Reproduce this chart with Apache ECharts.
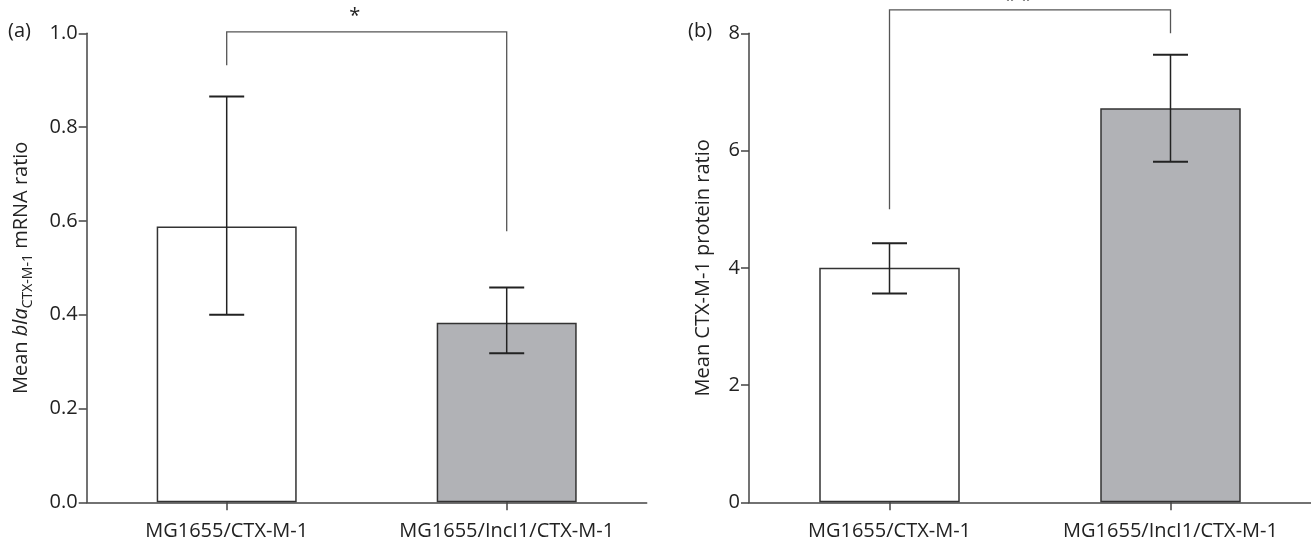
<!DOCTYPE html>
<html>
<head>
<meta charset="utf-8">
<script src="https://cdn.jsdelivr.net/npm/echarts@6/dist/echarts.min.js"></script>
<style>
html,body{margin:0;padding:0;background:#fff;}
#chart{width:1311px;height:545px;}
</style>
</head>
<body>
<div id="chart"></div>
<script>
// ---- data ----
var categories = ['MG1655/CTX-M-1', 'MG1655/IncI1/CTX-M-1'];
var mrnaMean = [0.588, 0.383];
var mrnaLow = [0.400, 0.318];
var mrnaHigh = [0.865, 0.458];
var proteinMean = [4.00, 6.72];
var proteinLow = [3.56, 5.81];
var proteinHigh = [4.42, 7.635];
// bracket: [top value, left leg end, right leg end]
var mrnaBracket = [1.003, 0.932, 0.578];
var mrnaSig = '*';
var proteinBracket = [8.40, 5.00, 8.00];
var proteinSig = '* *';
var mrnaTicks = { min: 0, max: 1.0, interval: 0.2 };
var proteinTicks = { min: 0, max: 8, interval: 2 };
var panelLabels = ['(a)', '(b)'];

var FONT = 'Open Sans';
var TXT = '#222';
var AX = '#444';
var barColors = ['#ffffff', '#b1b2b6'];

function errData(low, high) {
  return low.map(function (l, i) { return [i, l, high[i]]; });
}

function errRender(params, api) {
  var x = api.value(0);
  var lo = api.coord([x, api.value(1)]);
  var hi = api.coord([x, api.value(2)]);
  var hw = 17.5;
  var st = { stroke: '#222', lineWidth: 1.5 };
  return {
    type: 'group',
    children: [
      { type: 'line', shape: { x1: lo[0], y1: lo[1], x2: hi[0], y2: hi[1] }, style: st },
      { type: 'line', shape: { x1: hi[0] - hw, y1: hi[1], x2: hi[0] + hw, y2: hi[1] }, style: { stroke: '#222', lineWidth: 2 } },
      { type: 'line', shape: { x1: lo[0] - hw, y1: lo[1], x2: lo[0] + hw, y2: lo[1] }, style: { stroke: '#222', lineWidth: 2 } }
    ]
  };
}

function bracketRender(sig, starDy) {
  return function (params, api) {
    var top = api.value(2), l = api.value(3), r = api.value(4);
    var a = api.coord([0, l]);
    var at = api.coord([0, top]);
    var b = api.coord([1, r]);
    var bt = api.coord([1, top]);
    var mid = (a[0] + b[0]) / 2 - 12;
    return {
      type: 'group',
      children: [
        { type: 'polyline', shape: { points: [a, at, bt, b] }, style: { stroke: '#555', lineWidth: 1.3, fill: null } },
        { type: 'text', style: { text: sig, x: mid, y: at[1] + starDy, fill: TXT, font: '20px "' + FONT + '"', textAlign: 'center', textVerticalAlign: 'middle' } }
      ]
    };
  };
}

var gridTop = 33.3, gridH = 469;
var chart = echarts.init(document.getElementById('chart'), null, { renderer: 'canvas' });

function xAxisCfg(gi) {
  return {
    type: 'category', gridIndex: gi, data: categories,
    axisLine: { show: true, lineStyle: { color: AX, width: 1.5 } },
    axisTick: { show: true, alignWithLabel: true, length: 8, lineStyle: { color: AX, width: 1.5 } },
    axisLabel: { color: TXT, fontFamily: FONT, fontSize: 20, margin: 19 },
    splitLine: { show: false }
  };
}

function yAxisCfg(gi, ticks, name, gap, fmt) {
  return {
    type: 'value', gridIndex: gi, min: ticks.min, max: ticks.max, interval: ticks.interval,
    axisLine: { show: true, lineStyle: { color: AX, width: 1.5 } },
    axisTick: { show: true, length: 8, lineStyle: { color: AX, width: 1.5 } },
    axisLabel: { color: TXT, fontFamily: FONT, fontSize: 20, margin: 9, formatter: fmt },
    splitLine: { show: false },
    name: name, nameLocation: 'middle', nameGap: gap, nameRotate: 90,
    nameTextStyle: {
      color: TXT, fontFamily: FONT, fontSize: 20,
      rich: {
        n: { fontFamily: FONT, fontSize: 20, color: TXT, lineHeight: 26, verticalAlign: 'middle' },
        i: { fontFamily: FONT, fontSize: 20, fontStyle: 'italic', color: TXT, lineHeight: 26, verticalAlign: 'middle' },
        s: { fontFamily: FONT, fontSize: 14, color: TXT, lineHeight: 26, verticalAlign: 'bottom', padding: [0, 0, 0, 0] }
      }
    }
  };
}

function barSeries(gi, values) {
  return {
    type: 'bar', xAxisIndex: gi, yAxisIndex: gi, barWidth: '50%',
    data: values.map(function (v, i) {
      return { value: v, itemStyle: { color: barColors[i], borderColor: '#333', borderWidth: 1.5 } };
    }),
    silent: true, animation: false
  };
}

chart.setOption({
  animation: false,
  backgroundColor: '#fff',
  textStyle: { fontFamily: FONT },
  grid: [
    { left: 86.7, top: gridTop, width: 560, height: gridH, containLabel: false },
    { left: 749, top: gridTop, width: 562, height: gridH, containLabel: false }
  ],
  graphic: [
    { type: 'text', left: 8, top: 21, style: { text: panelLabels[0], font: '20px "' + FONT + '"', fill: TXT } },
    { type: 'text', left: 688, top: 21, style: { text: panelLabels[1], font: '20px "' + FONT + '"', fill: TXT } }
  ],
  xAxis: [xAxisCfg(0), xAxisCfg(1)],
  yAxis: [
    yAxisCfg(0, mrnaTicks, '{n|Mean }{i|bla}{s|CTX-M-1}{n| mRNA ratio}', 52, function (v) { return v.toFixed(1); }),
    yAxisCfg(1, proteinTicks, 'Mean CTX-M-1 protein ratio', 36, function (v) { return String(v); })
  ],
  series: [
    barSeries(0, mrnaMean),
    barSeries(1, proteinMean),
    { type: 'custom', xAxisIndex: 0, yAxisIndex: 0, renderItem: errRender, data: errData(mrnaLow, mrnaHigh), clip: false, z: 5, silent: true },
    { type: 'custom', xAxisIndex: 1, yAxisIndex: 1, renderItem: errRender, data: errData(proteinLow, proteinHigh), clip: false, z: 5, silent: true },
    { type: 'custom', xAxisIndex: 0, yAxisIndex: 0, renderItem: bracketRender(mrnaSig, -16), data: [[0, 1].concat(mrnaBracket)], encode: { x: 0, y: 2 }, clip: false, z: 5, silent: true },
    { type: 'custom', xAxisIndex: 1, yAxisIndex: 1, renderItem: bracketRender(proteinSig, -9), data: [[0, 1].concat(proteinBracket)], encode: { x: 0, y: 2 }, clip: false, z: 5, silent: true }
  ]
});
</script>
</body>
</html>
